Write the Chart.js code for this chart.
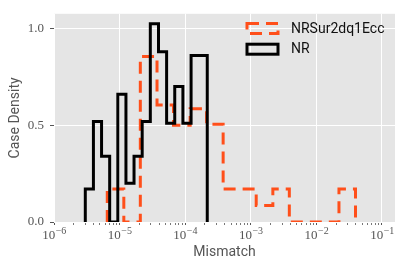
<!DOCTYPE html>
<html>
<head>
<meta charset="utf-8">
<script src="https://cdn.jsdelivr.net/npm/chart.js@4"></script>
<style>
  body { margin: 0; background: #fff; }
</style>
</head>
<body>
<canvas id="chart" width="407" height="271"></canvas>
<script>
// bin edges and heights
const nrEdges = [3.00e-6, 3.99e-6, 5.31e-6, 7.06e-6, 9.40e-6, 1.25e-5, 1.66e-5, 2.21e-5,
                 2.94e-5, 3.92e-5, 5.21e-5, 6.93e-5, 9.23e-5, 1.23e-4, 1.63e-4, 2.17e-4];
const nrDensity = [0.17, 0.52, 0.34, 0, 0.66, 0.20, 0.34, 0.52, 1.025, 0.88, 0.51, 0.70, 0.51, 0.86, 0.86];

const surEdges = [6.49e-6, 1.16e-5, 2.07e-5, 3.72e-5, 6.64e-5, 1.19e-4, 2.12e-4, 3.79e-4,
                  6.78e-4, 1.21e-3, 2.17e-3, 3.87e-3, 6.92e-3, 1.24e-2, 2.21e-2, 3.95e-2];
const surDensity = [0.17, 0, 0.855, 0.605, 0.50, 0.585, 0.505, 0.17, 0.17, 0.085, 0.17, 0, 0, 0, 0.17];

const xTicks = [1e-6, 1e-5, 1e-4, 1e-3, 1e-2, 1e-1];
const yTicks = [0, 0.5, 1.0];

const ORANGE = '#FF4F1A';

// step outline of a histogram
function stepPoints(edges, vals) {
  const pts = [{x: edges[0], y: 0}];
  vals.forEach((v, i) => {
    pts.push({x: edges[i], y: v});
    pts.push({x: edges[i + 1], y: v});
  });
  pts.push({x: edges[edges.length - 1], y: 0});
  return pts;
}

function isDecade(v) {
  const l = Math.log10(v);
  return Math.abs(l - Math.round(l)) < 1e-9;
}

// minor log ticks between the decades
const allXTicks = [];
xTicks.forEach(d => {
  for (let m = 1; m <= 9; m++) {
    const v = m * d;
    if (v <= 0.158) allXTicks.push(v);
  }
});

const panelBg = {
  id: 'panelBg',
  beforeDraw(chart) {
    const {ctx, chartArea: a} = chart;
    ctx.save();
    ctx.fillStyle = '#E5E5E5';
    ctx.fillRect(a.left, a.top, a.right - a.left, a.bottom - a.top);
    ctx.restore();
  }
};

// 10^n labels with a raised exponent
const powerLabels = {
  id: 'powerLabels',
  afterDraw(chart) {
    const {ctx} = chart;
    const sx = chart.scales.x;
    const y0 = chart.chartArea.bottom;
    ctx.save();
    ctx.fillStyle = '#555';
    ctx.textBaseline = 'alphabetic';
    xTicks.forEach(v => {
      const base = '10';
      const exp = '\u2212' + Math.abs(Math.round(Math.log10(v)));
      ctx.font = '13px "Liberation Serif"';
      const wb = ctx.measureText(base).width;
      ctx.font = '10px "Liberation Serif"';
      const we = ctx.measureText(exp).width;
      const x = sx.getPixelForValue(v) - (wb + we) / 2;
      ctx.font = '13px "Liberation Serif"';
      ctx.fillText(base, x, y0 + 17);
      ctx.font = '10px "Liberation Serif"';
      ctx.fillText(exp, x + wb + 0.5, y0 + 12);
    });
    ctx.restore();
  }
};

const legendBox = {
  id: 'legendBox',
  afterDraw(chart) {
    const {ctx} = chart;
    const items = [
      {label: 'NRSur2dq1Ecc', color: ORANGE, dash: [12, 7], y: 28.5},
      {label: 'NR', color: '#000', dash: [], y: 49.2}
    ];
    ctx.save();
    items.forEach(it => {
      ctx.lineWidth = 3;
      ctx.strokeStyle = it.color;
      ctx.setLineDash(it.dash);
      ctx.lineJoin = 'miter';
      ctx.strokeRect(247, it.y - 5, 31, 10);
      ctx.setLineDash([]);
      ctx.fillStyle = '#111';
      ctx.font = '14px Roboto';
      ctx.textBaseline = 'middle';
      ctx.fillText(it.label, 291, it.y + 0.5);
    });
    ctx.restore();
  }
};

new Chart(document.getElementById('chart'), {
  type: 'line',
  data: {
    datasets: [{
      label: 'NRSur2dq1Ecc',
      data: stepPoints(surEdges, surDensity),
      borderColor: ORANGE,
      borderWidth: 3,
      borderDash: [12, 7],
      borderJoinStyle: 'miter',
      pointRadius: 0,
      tension: 0,
      fill: false,
      clip: 0,
      order: 2
    }, {
      label: 'NR',
      data: stepPoints(nrEdges, nrDensity),
      borderColor: '#000',
      borderWidth: 3,
      borderJoinStyle: 'miter',
      pointRadius: 0,
      tension: 0,
      fill: false,
      clip: 0,
      order: 1
    }]
  },
  options: {
    responsive: false,
    animation: false,
    devicePixelRatio: 1,
    layout: { padding: {left: 0, right: 12, top: 10, bottom: 0} },
    plugins: {
      legend: { display: false },
      tooltip: { enabled: false }
    },
    scales: {
      x: {
        type: 'logarithmic',
        min: 1e-6,
        max: 0.158,
        afterBuildTicks: s => { s.ticks = allXTicks.map(v => ({value: v})); },
        afterFit: s => { s.height = 49; },
        border: { display: false },
        grid: {
          color: c => (c.tick && isDecade(c.tick.value)) ? '#fff' : 'rgba(0,0,0,0)',
          lineWidth: 1,
          tickColor: '#555',
          tickWidth: c => (c.tick && isDecade(c.tick.value)) ? 1 : 0.8,
          tickLength: 3
        },
        ticks: {
          autoSkip: false,
          maxRotation: 0,
          minRotation: 0,
          padding: 2,
          color: '#555',
          font: { family: 'Liberation Serif', size: 13 },
          callback: () => ''
        },
        title: {
          display: true,
          text: 'Mismatch',
          color: '#555',
          font: { family: 'Roboto', size: 14 },
          padding: { top: 0, bottom: 10 }
        }
      },
      y: {
        min: 0,
        max: 1.076,
        afterBuildTicks: s => { s.ticks = yTicks.map(v => ({value: v})); },
        afterFit: s => { s.width = 54; },
        border: { display: false },
        grid: {
          color: '#fff',
          lineWidth: 1,
          tickColor: '#555',
          tickLength: 4
        },
        ticks: {
          padding: 6,
          color: '#555',
          font: { family: 'Liberation Serif', size: 13 },
          callback: v => v.toFixed(1)
        },
        title: {
          display: true,
          text: 'Case Density',
          color: '#555',
          font: { family: 'Roboto', size: 14 },
          padding: { top: 7, bottom: 0 }
        }
      }
    }
  },
  plugins: [panelBg, powerLabels, legendBox]
});
</script>
</body>
</html>
